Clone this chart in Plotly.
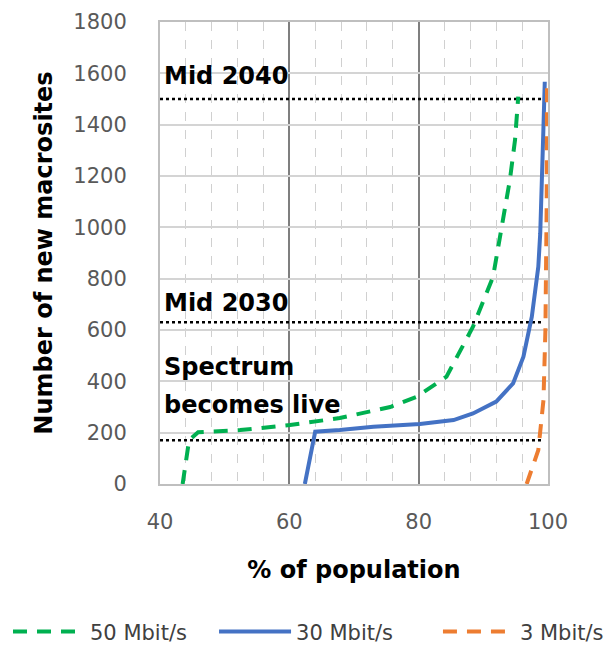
import plotly.graph_objects as go

# curves
x_50 = [43.5, 44.5, 45.9, 52.4, 60.1, 67.8, 75.6, 79.7, 84.3, 88.4, 91.5, 92.3, 93.1, 94.1, 94.9, 95.4]
y_50 = [0, 171, 202, 210, 230, 257, 300, 340, 418, 613, 807, 924, 1041, 1184, 1340, 1509]

x_30 = [62.4, 64.0, 67.8, 73.0, 80.2, 85.4, 88.4, 92.0, 94.6, 96.2, 97.5, 98.5, 98.8, 99.0, 99.3, 99.5]
y_30 = [0, 204, 210, 223, 234, 249, 275, 321, 392, 496, 652, 846, 977, 1211, 1392, 1567]

x_3 = [96.7, 98.5, 99.3, 99.6, 99.8, 99.85]
y_3 = [0, 132, 327, 600, 1100, 1580]

# milestone lines
milestone_y = [1500, 630, 170]
milestone_x = [40, 99]
milestone_labels = ["Mid 2040", "Mid 2030", "Spectrum", "becomes live"]
label_y = [1590, 705, 456, 306]

FONT = "DejaVu Sans"

fig = go.Figure()

for yv in milestone_y:
    fig.add_trace(go.Scatter(
        x=milestone_x, y=[yv, yv], mode="lines",
        line=dict(color="black", width=2.5, dash="dot"),
        showlegend=False, hoverinfo="skip"
    ))

fig.add_trace(go.Scatter(
    x=x_50, y=y_50, mode="lines", name="50 Mbit/s", legend="legend",
    line=dict(color="#00B050", width=4, dash="14px,10px")
))
fig.add_trace(go.Scatter(
    x=x_30, y=y_30, mode="lines", name="30 Mbit/s", legend="legend2",
    line=dict(color="#4472C4", width=4)
))
fig.add_trace(go.Scatter(
    x=x_3, y=y_3, mode="lines", name="3 Mbit/s", legend="legend3",
    line=dict(color="#ED7D31", width=4, dash="14px,10px")
))

for txt, yv in zip(milestone_labels, label_y):
    fig.add_annotation(
        x=40.3, y=yv, text=txt, showarrow=False,
        xanchor="left", yanchor="middle", align="left",
        font=dict(family=FONT, size=24, color="black", weight="bold")
    )

fig.update_xaxes(
    range=[40, 100], dtick=20, tick0=40,
    showgrid=True, gridcolor="#7f7f7f", gridwidth=2,
    minor=dict(dtick=4, showgrid=True, gridcolor="#d0d0d0", griddash="dash", gridwidth=1),
    showline=True, linecolor="#bfbfbf", linewidth=2, mirror=True,
    ticks="", zeroline=False, ticklabelstandoff=18,
    tickfont=dict(family=FONT, size=21, color="#595959"),
    title=dict(text="% of population", standoff=28,
               font=dict(family=FONT, size=24, color="black", weight="bold"))
)
fig.update_yaxes(
    range=[0, 1800], dtick=200,
    showgrid=True, gridcolor="#d4d4d4", gridwidth=2,
    showline=True, linecolor="#bfbfbf", linewidth=2, mirror=True,
    ticks="", zeroline=False, ticklabelstandoff=27,
    tickfont=dict(family=FONT, size=21, color="#595959"),
    title=dict(text="Number of new macrosites", standoff=14,
               font=dict(family=FONT, size=24, color="black", weight="bold"))
)

leg_font = dict(family=FONT, size=21, color="#404040")
leg_common = dict(orientation="h", xref="container", yref="container",
                  xanchor="left", yanchor="middle", y=0.022,
                  itemwidth=72, font=leg_font, bgcolor="rgba(0,0,0,0)")

# page body adds an 8px offset, so the figure is 8px smaller than the window
fig.update_layout(
    width=606, height=638,
    margin=dict(l=152, r=66, t=14, b=162, autoexpand=False),
    plot_bgcolor="white", paper_bgcolor="white",
    font=dict(family=FONT),
    legend=dict(x=-0.023, **leg_common),
    legend2=dict(x=0.340, **leg_common),
    legend3=dict(x=0.7095, **leg_common),
)

fig.write_html("out.html")
